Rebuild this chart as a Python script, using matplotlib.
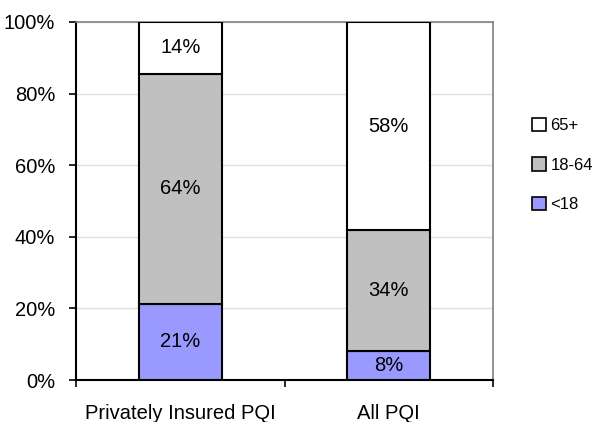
import matplotlib
matplotlib.use('Agg')
import matplotlib.pyplot as plt
import numpy as np
from matplotlib.patches import Patch

plt.rcParams['font.family'] = ['Liberation Sans', 'DejaVu Sans']

# Data (percent of each group)
categories = ['Privately Insured PQI', 'All PQI']
under18 = [21.3, 8.2]
age18_64 = [64.3, 33.6]
age65 = [14.4, 58.2]
series_names = ['<18', '18-64', '65+']
colors = ['#9999ff', '#c0c0c0', '#ffffff']

fig = plt.figure(figsize=(5.97, 4.22), dpi=100)
ax = fig.add_axes([0.1273, 0.0995, 0.6985, 0.8484])

x = np.arange(len(categories))
bottom = np.zeros(len(categories))
for vals, name, col in zip([under18, age18_64, age65], series_names, colors):
    vals = np.array(vals)
    ax.bar(x, vals, width=0.4, bottom=bottom, color=col, edgecolor='black',
           linewidth=1.5, label=name, zorder=3)
    for xi, b, v in zip(x, bottom, vals):
        ax.text(xi, b + v / 2, f'{round(v)}%', ha='center', va='center',
                fontsize=14.5, zorder=4)
    bottom += vals

ax.set_xlim(-0.5, 1.5)
ax.set_ylim(0, 100)
ax.set_yticks(range(0, 101, 20))
ax.set_yticklabels([f'{t}%' for t in range(0, 101, 20)], fontsize=14.5)
ax.yaxis.grid(True, color='#e0e0e0', linewidth=1, zorder=0)

# category boundary ticks on x axis
ax.set_xticks([-0.5, 0.5, 1.5])
ax.set_xticklabels([])
ax.set_xticks(x, minor=True)
ax.set_xticklabels(categories, minor=True, fontsize=14.5)
ax.tick_params(axis='x', which='minor', length=0, pad=17)
ax.tick_params(axis='x', which='major', length=5, width=1.2, direction='out')
ax.tick_params(axis='y', length=5, width=1.2, direction='out', pad=10)

for s in ['left', 'bottom']:
    ax.spines[s].set_color('black')
    ax.spines[s].set_linewidth(1.5)
for s in ['top', 'right']:
    ax.spines[s].set_color('#808080')
    ax.spines[s].set_linewidth(1.2)

handles = [Patch(facecolor=c, edgecolor='black', linewidth=1.2)
           for c in colors[::-1]]
fig.legend(handles, series_names[::-1], loc='center left',
           bbox_to_anchor=(532 / 597, 1 - 165 / 422), frameon=False,
           fontsize=12, borderpad=0, borderaxespad=0,
           handlelength=0.85, handleheight=0.85, handletextpad=0.25,
           labelspacing=1.45)

fig.savefig('out.png', dpi=100)
